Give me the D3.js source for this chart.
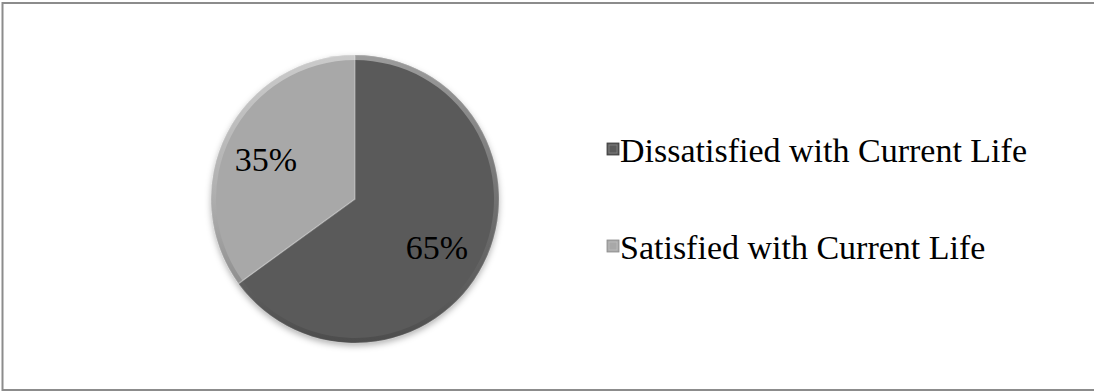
<!DOCTYPE html>
<html>
<head>
<meta charset="utf-8">
<script src="https://cdn.jsdelivr.net/npm/d3@7"></script>
<style>
  html, body { margin: 0; padding: 0; background: #fff; }
  svg { display: block; }
</style>
</head>
<body>
<script>
const categories = ["Dissatisfied with Current Life", "Satisfied with Current Life"];
const values = [65, 35];
const labels = ["65%", "35%"];
const colors = ["#5a5a5a", "#a8a8a8"];

const FONT = '"Liberation Serif", "Times New Roman", Times, serif';
const W = 1094, H = 392;
const svg = d3.select("body").append("svg").attr("width", W).attr("height", H);

svg.append("rect").attr("x", 2.5).attr("y", 3).attr("width", W - 1).attr("height", 387)
  .attr("fill", "#fff").attr("stroke", "#8c8c8c").attr("stroke-width", 2);

const defs = svg.append("defs");
const shadow = defs.append("filter").attr("id", "shadow").attr("x", "-20%").attr("y", "-20%").attr("width", "140%").attr("height", "140%");
shadow.append("feDropShadow").attr("dx", 0).attr("dy", 3).attr("stdDeviation", 3).attr("flood-color", "#000").attr("flood-opacity", 0.3);

const rimGrad = defs.append("linearGradient").attr("id", "rim").attr("x1", 0).attr("y1", 0).attr("x2", 0).attr("y2", 1);
rimGrad.append("stop").attr("offset", "0%").attr("stop-color", "#fff").attr("stop-opacity", 0.4);
rimGrad.append("stop").attr("offset", "55%").attr("stop-color", "#fff").attr("stop-opacity", 0.12);
rimGrad.append("stop").attr("offset", "100%").attr("stop-color", "#000").attr("stop-opacity", 0.15);

const cx = 355, cy = 199, r = 144;
const g = svg.append("g").attr("transform", `translate(${cx},${cy})`);

const pie = d3.pie().sort(null).value(d => d)(values);
const arc = d3.arc().innerRadius(0).outerRadius(r);
const rimArc = d3.arc().innerRadius(r - 5).outerRadius(r);

const slices = g.append("g").attr("filter", "url(#shadow)");
slices.selectAll("path.slice").data(pie).join("path")
  .attr("class", "slice")
  .attr("d", arc)
  .attr("fill", (d, i) => colors[i]);

g.selectAll("path.rim").data(pie).join("path")
  .attr("class", "rim")
  .attr("d", rimArc)
  .attr("fill", "url(#rim)");

g.selectAll("path.edge").data(pie).join("path")
  .attr("class", "edge")
  .attr("d", arc)
  .attr("fill", "none")
  .attr("stroke", "#ffffff")
  .attr("stroke-opacity", 0.15)
  .attr("stroke-width", 1.5);

const labelPos = [[82, 60], [-89, -28]];
g.selectAll("text.lbl").data(pie).join("text")
  .attr("class", "lbl")
  .attr("x", (d, i) => labelPos[i][0])
  .attr("y", (d, i) => labelPos[i][1])
  .attr("text-anchor", "middle")
  .style("font-family", FONT)
  .attr("font-size", 34)
  .attr("fill", "#000")
  .text((d, i) => labels[i]);

const legend = svg.append("g");
const legY = [149, 246];
categories.forEach((c, i) => {
  const lg = legend.append("g").attr("transform", `translate(607,${legY[i]})`);
  lg.append("rect").attr("x", 0).attr("y", -6).attr("width", 12).attr("height", 12)
    .attr("fill", colors[i]).attr("stroke", i === 0 ? "#3a3a3a" : "#8a8a8a").attr("stroke-width", 0.8);
  lg.append("rect").attr("x", 2).attr("y", -4).attr("width", 8).attr("height", 8)
    .attr("fill", colors[i]).attr("stroke", "#fff").attr("stroke-opacity", 0.25).attr("stroke-width", 0.8);
  lg.append("text").attr("x", 13).attr("y", 13)
    .style("font-family", FONT)
    .attr("font-size", 34)
    .attr("fill", "#000")
    .text(c);
});
</script>
</body>
</html>
